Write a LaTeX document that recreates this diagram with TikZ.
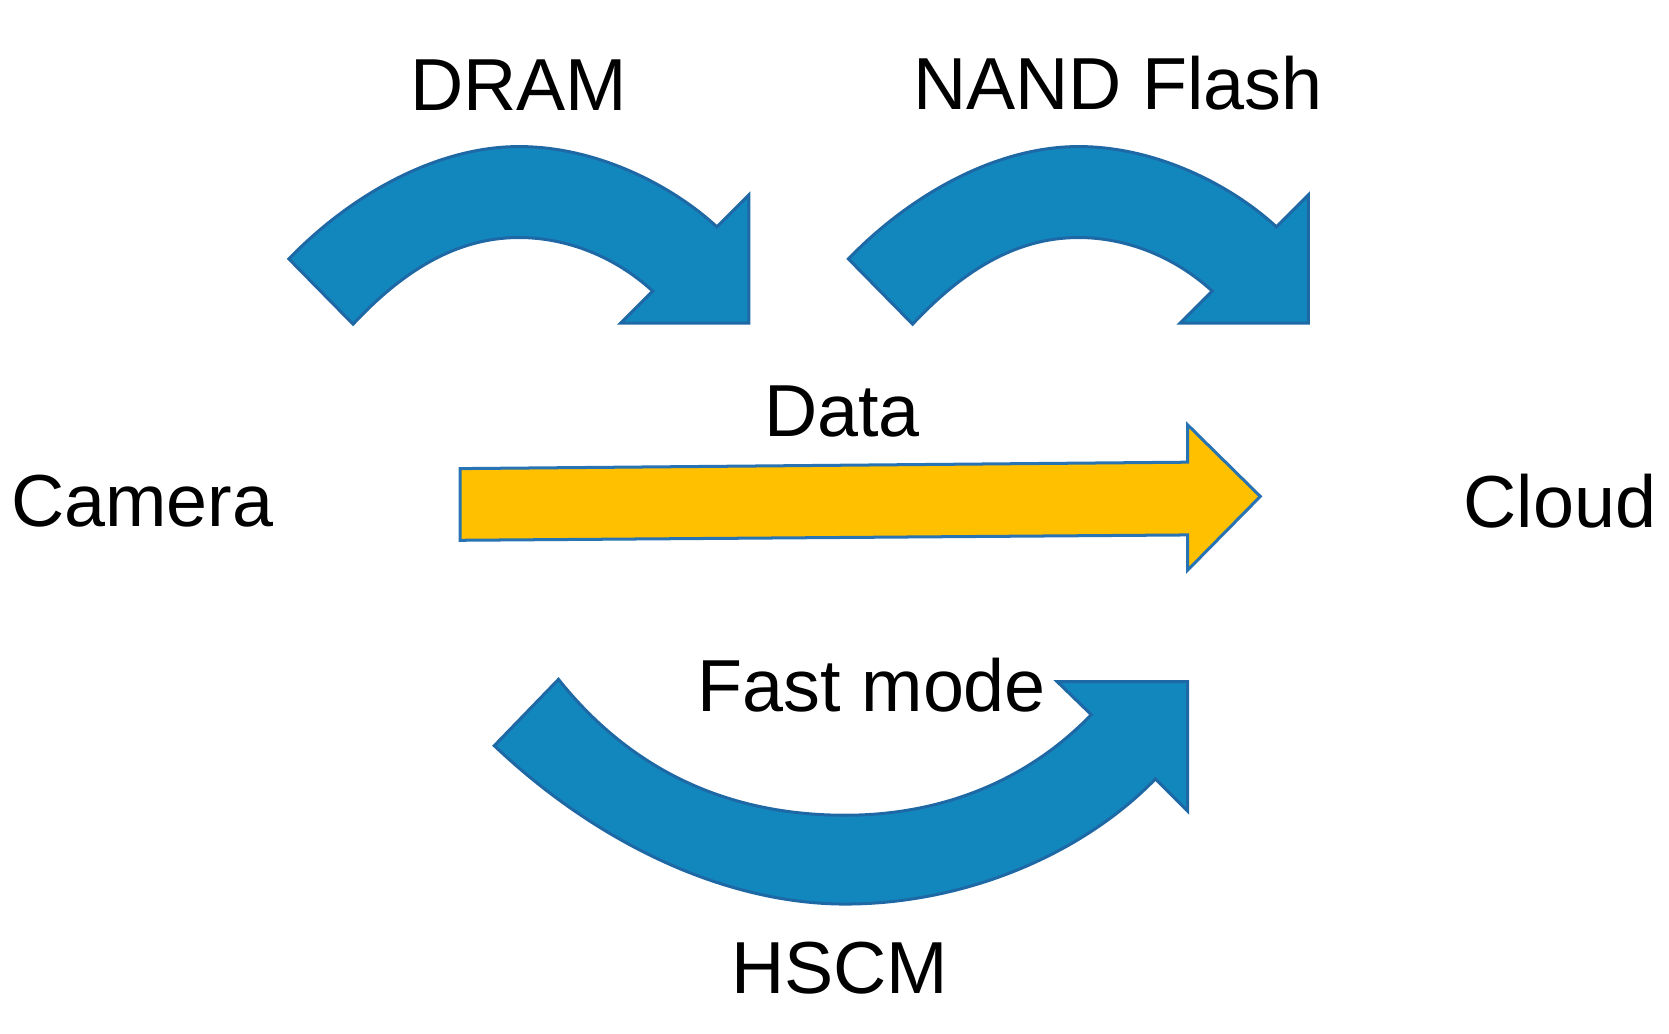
\documentclass[tikz,border=0pt]{standalone}
\usepackage{fontspec}
\setmainfont{Liberation Sans}
\begin{document}
\begin{tikzpicture}[x=0.1mm,y=-0.1mm,
  lbl/.style={font=\fontsize{19.6}{24}\selectfont, inner sep=0pt},
  blue arrow/.style={fill={rgb,255:red,18;green,135;blue,190}, draw={rgb,255:red,30;green,105;blue,165}, line width=0.8pt, line join=miter},
  yellow arrow/.style={fill={rgb,255:red,255;green,192;blue,0}, draw={rgb,255:red,40;green,115;blue,180}, line width=0.8pt}]
\useasboundingbox (0,0) rectangle (1560,966);
% DRAM arrow
\draw[blue arrow] (270,242) .. controls (330,180) and (410,137) .. (485,137)
  .. controls (560,137) and (630,175) .. (670,212)
  -- (700,182) -- (700,302) -- (580,302) -- (610,272)
  .. controls (575,240) and (530,222) .. (485,222)
  .. controls (425,222) and (375,255) .. (330,303) -- cycle;
% NAND arrow
\begin{scope}[xshift=523*0.1mm]
\draw[blue arrow] (270,242) .. controls (330,180) and (410,137) .. (485,137)
  .. controls (560,137) and (630,175) .. (670,212)
  -- (700,182) -- (700,302) -- (580,302) -- (610,272)
  .. controls (575,240) and (530,222) .. (485,222)
  .. controls (425,222) and (375,255) .. (330,303) -- cycle;
\end{scope}
% Fast mode arrow
\draw[blue arrow] (462,697) .. controls (560,790) and (680,845) .. (790,845)
  .. controls (900,845) and (1010,800) .. (1080,728)
  -- (1110,758) -- (1110,637) -- (988,637) -- (1020,668)
  .. controls (960,730) and (880,762) .. (790,762)
  .. controls (680,762) and (590,720) .. (522,635) -- cycle;
% Data arrow
\draw[yellow arrow] (430,438) -- (1110,432) -- (1110,397) -- (1178,464) -- (1110,533) -- (1110,500) -- (430,505) -- cycle;
\node[lbl] (dram) at (485,80) {DRAM};
\node[lbl] (nand) at (1045,78) {NAND Flash};
\node[lbl] (data) at (787,385) {Data};
\node[lbl] (cam) at (133,468) {Camera};
\node[lbl] (cloud) at (1458,468) {Cloud};
\node[lbl] (fast) at (815,640) {Fast mode};
\node[lbl] (hscm) at (785,905) {HSCM};
\end{tikzpicture}
\end{document}
